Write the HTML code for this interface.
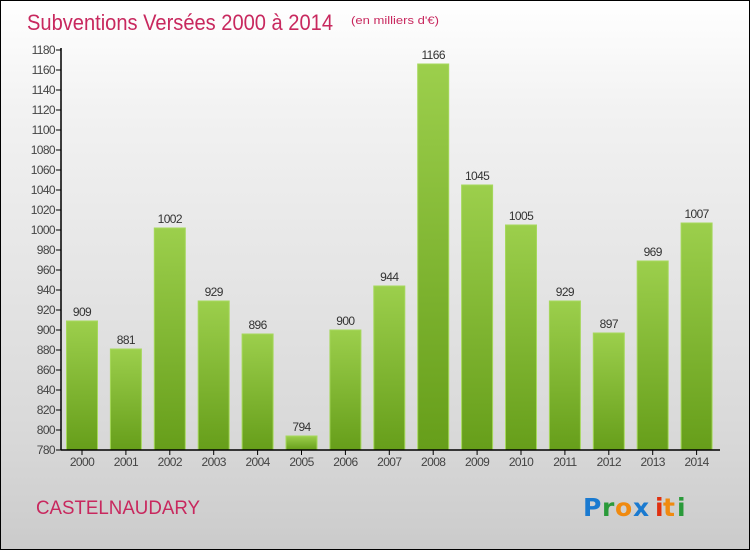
<!DOCTYPE html>
<html><head><meta charset="utf-8"><style>
body{margin:0;width:750px;height:550px;overflow:hidden;font-family:"Liberation Sans",sans-serif}
#wrap{position:absolute;left:0;top:0;width:748px;height:548px;border:1px solid #000;background:linear-gradient(#ffffff 0%,#f2f2f2 20%,#d8d8d8 80%,#cbcbcb 100%)}
</style></head><body>
<div id="wrap">
<svg id="svg" width="748" height="548" viewBox="1 1 748 548" xmlns="http://www.w3.org/2000/svg">
<defs><linearGradient id="bg" x1="0" y1="0" x2="0" y2="1"><stop offset="0" stop-color="#9ccf4c"/><stop offset="1" stop-color="#669e1a"/></linearGradient></defs>
<text x="27" y="30" font-size="22" fill="#c8285e" textLength="306" lengthAdjust="spacingAndGlyphs">Subventions Versées 2000 à 2014</text>
<text x="351" y="24" font-size="11" fill="#c8285e" textLength="88" lengthAdjust="spacingAndGlyphs">(en milliers d'€)</text>
<text x="36" y="514" font-size="19" fill="#c8285e" textLength="164" lengthAdjust="spacingAndGlyphs">CASTELNAUDARY</text>
<g font-size="25" font-family="DejaVu Sans,sans-serif" font-weight="bold">
<text x="583" y="516" fill="#1a7ad0">P</text><text x="602" y="516" fill="#2a9a3a">r</text><text x="615" y="516" fill="#f08a10">o</text><text x="633" y="516" fill="#1a7ad0">x</text><text x="655" y="516" fill="#e03010">i</text><text x="663" y="516" fill="#f08a10">t</text><text x="677" y="516" fill="#2a9a3a">i</text></g>
<g id="chart"></g>
</svg></div>
<script>
const categories=["2000","2001","2002","2003","2004","2005","2006","2007","2008","2009","2010","2011","2012","2013","2014"];
const values=[909,881,1002,929,896,794,900,944,1166,1045,1005,929,897,969,1007];
const yTicks=[780,800,820,840,860,880,900,920,940,960,980,1000,1020,1040,1060,1080,1100,1120,1140,1160,1180];
const NS="http://www.w3.org/2000/svg";
const g=document.getElementById('chart');
const y=v=>450-(v-780)*(400/400);
const x=i=>82+i*43.9;
function mk(t,a){const e=document.createElementNS(NS,t);for(const k in a)e.setAttribute(k,a[k]);g.appendChild(e);return e;}
yTicks.forEach(v=>{
 const l=mk('line',{x1:56,x2:61,y1:y(v),y2:y(v),stroke:'#000'});
 
 
 const t=mk('text',{x:55,y:y(v)+4,'font-size':12,'text-anchor':'end',fill:'#444','letter-spacing':'-0.6'});
 t.textContent=v;
 
 
});
categories.forEach((c,i)=>{
 const v=values[i];
 const r=mk('rect',{x:x(i)-15.5,y:y(v),width:31,height:450-y(v),fill:'url(#bg)',stroke:'#a6d85c','stroke-width':1});
 
 
 const t=mk('text',{x:x(i),y:y(v)-5,'font-size':12,'text-anchor':'middle',fill:'#333','letter-spacing':'-0.6'});
 t.textContent=v;
 
 
 const tk=mk('line',{x1:x(i),x2:x(i),y1:450,y2:455,stroke:'#000'});
 
 
 const xl=mk('text',{x:x(i),y:466,'font-size':12,'text-anchor':'middle',fill:'#444','letter-spacing':'-0.6'});
 xl.textContent=c;
 
 
});
const ya=mk('line',{x1:61,x2:61,y1:48,y2:450,stroke:'#000','stroke-width':1.5});


const xa=mk('line',{x1:61,x2:720,y1:450,y2:450,stroke:'#000','stroke-width':1.5});


</script>
</body></html>
